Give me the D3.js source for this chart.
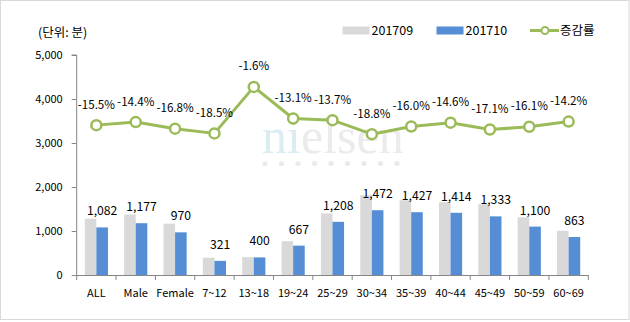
<!DOCTYPE html>
<html>
<head>
<meta charset="utf-8">
<script src="https://cdn.jsdelivr.net/npm/d3@7"></script>
<style>
  html, body { margin: 0; padding: 0; background: #fff; }
  svg { display: block; }
  text { font-family: "Noto Sans CJK KR", "Noto Sans", sans-serif; fill: #000; }
</style>
</head>
<body>
<svg id="chart" width="630" height="322"></svg>
<script>
// Categories (age / gender groups)
const categories = ["ALL", "Male", "Female", "7~12", "13~18", "19~24", "25~29", "30~34", "35~39", "40~44", "45~49", "50~59", "60~69"];
// Usage minutes, September 2017
const sep2017 = [1280, 1375, 1166, 394, 407, 768, 1400, 1813, 1699, 1656, 1608, 1311, 1006];
// Usage minutes, October 2017
const oct2017 = [1082, 1177, 970, 321, 400, 667, 1208, 1472, 1427, 1414, 1333, 1100, 863];
// Month-over-month change (%)
const changeRate = [-15.5, -14.4, -16.8, -18.5, -1.6, -13.1, -13.7, -18.8, -16.0, -14.6, -17.1, -16.1, -14.2];
// Series names and axis ticks
const seriesNames = ["201709", "201710", "증감률"];
const yTicks = [0, 1000, 2000, 3000, 4000, 5000];
const unitLabel = "(단위: 분)";

const colors = { sep: "#d9d9d9", oct: "#558ed5", line: "#9bbb59", axis: "#868686" };

// Number formats using a plain hyphen for negatives
const locale = d3.formatLocale({ decimal: ".", thousands: ",", grouping: [3], currency: ["", ""], minus: "-" });
const fmtInt = locale.format(",");
const fmtPct = locale.format(".1f");

const svg = d3.select("#chart");

// Outer frame
svg.append("rect")
  .attr("x", 0.5).attr("y", 0.5).attr("width", 628.5).attr("height", 319)
  .attr("fill", "#fff").attr("stroke", "#d9d9d9").attr("stroke-width", 1);

const plotLeft = 76.7, plotRight = 588.3, plotTop = 55, plotBottom = 275;

const x = d3.scaleBand().domain(categories).range([plotLeft, plotRight]).paddingInner(0).paddingOuter(0);
const xSub = d3.scaleBand().domain(["sep", "oct"]).range([0, x.bandwidth()]).paddingInner(0).paddingOuter(0.7);
const y = d3.scaleLinear().domain([0, 5000]).range([plotBottom, plotTop]);
const y2 = d3.scaleLinear().domain([-70, 10]).range([plotBottom, plotTop]);

// Watermark
const wm = svg.append("g").attr("class", "watermark");
const wmText = wm.append("text")
  .attr("x", 262).attr("y", 153)
  .style("font-family", "'Liberation Serif', serif")
  .style("font-size", "50px");
wmText.append("tspan").text("ni").style("fill", "#dcecf3");
wmText.append("tspan").text("elsen").style("fill", "#ebebeb");
const dotXs = d3.range(9);
wm.selectAll("circle").data(dotXs).join("circle")
  .attr("cx", d => 265 + d * 16.5).attr("cy", 163.5).attr("r", 2.6)
  .attr("fill", "#ebebeb");

// Unit label
svg.append("text").attr("x", 38).attr("y", 37).style("font-size", "12.5px").text(unitLabel);

// Y axis
const yAxis = svg.append("g").attr("transform", `translate(${plotLeft},0)`)
  .call(d3.axisLeft(y).tickValues(yTicks).tickSize(5).tickPadding(9).tickFormat(fmtInt));
yAxis.attr("font-family", null).attr("font-size", null);
yAxis.select(".domain").attr("stroke", colors.axis).attr("d", `M-5,${plotTop}H0V${plotBottom}`);
yAxis.selectAll(".tick line").attr("stroke", colors.axis);
yAxis.selectAll(".tick text").style("font-size", "11px").attr("fill", "#000");

// X axis with ticks at category boundaries
const xAxisG = svg.append("g").attr("transform", `translate(0,${plotBottom})`);
xAxisG.append("line").attr("x1", plotLeft).attr("x2", plotRight).attr("y1", 0.5).attr("y2", 0.5).attr("stroke", colors.axis);
const boundaries = categories.map(c => x(c)).concat([x(categories[categories.length - 1]) + x.bandwidth()]);
xAxisG.selectAll("line.tk").data(boundaries).join("line").attr("class", "tk")
  .attr("x1", d => d).attr("x2", d => d).attr("y1", 0).attr("y2", 5).attr("stroke", colors.axis);
xAxisG.selectAll("text").data(categories).join("text")
  .attr("x", d => x(d) + x.bandwidth() / 2).attr("y", 22)
  .attr("text-anchor", "middle").style("font-size", "11px").text(d => d);

// Bars
const rows = categories.map((c, i) => ({ c, sep: sep2017[i], oct: oct2017[i], rate: changeRate[i] }));
const barsG = svg.append("g");
barsG.selectAll("rect.sep").data(rows).join("rect").attr("class", "sep")
  .attr("x", d => x(d.c) + xSub("sep")).attr("width", xSub.bandwidth())
  .attr("y", d => y(d.sep)).attr("height", d => y(0) - y(d.sep)).attr("fill", colors.sep);
barsG.selectAll("rect.oct").data(rows).join("rect").attr("class", "oct")
  .attr("x", d => x(d.c) + xSub("oct")).attr("width", xSub.bandwidth())
  .attr("y", d => y(d.oct)).attr("height", d => y(0) - y(d.oct)).attr("fill", colors.oct);
barsG.selectAll("text").data(rows).join("text")
  .attr("x", d => x(d.c) + xSub("oct") + xSub.bandwidth() / 2)
  .attr("y", d => y(d.oct) - 12)
  .attr("text-anchor", "middle").style("font-size", "12.2px")
  .text(d => fmtInt(d.oct));

// Change-rate line
const cx = d => x(d.c) + x.bandwidth() / 2;
const line = d3.line().x(cx).y(d => y2(d.rate));
svg.append("path").datum(rows).attr("d", line)
  .attr("fill", "none").attr("stroke", colors.line).attr("stroke-width", 3).attr("stroke-linejoin", "round");
svg.selectAll("circle.pt").data(rows).join("circle").attr("class", "pt")
  .attr("cx", cx).attr("cy", d => y2(d.rate)).attr("r", 5)
  .attr("fill", "#fff").attr("stroke", colors.line).attr("stroke-width", 2.5);
svg.selectAll("text.rate").data(rows).join("text").attr("class", "rate")
  .attr("x", cx).attr("y", d => y2(d.rate) - 16.5)
  .attr("text-anchor", "middle").style("font-size", "11.6px")
  .text(d => fmtPct(d.rate) + "%");

// Legend
const lg = svg.append("g");
lg.append("rect").attr("x", 342.5).attr("y", 26.5).attr("width", 27).attr("height", 8).attr("fill", colors.sep);
lg.append("text").attr("x", 371.5).attr("y", 35).style("font-size", "12.5px").text(seriesNames[0]);
lg.append("rect").attr("x", 436.5).attr("y", 26.5).attr("width", 27).attr("height", 8).attr("fill", colors.oct);
lg.append("text").attr("x", 465.5).attr("y", 35).style("font-size", "12.5px").text(seriesNames[1]);
lg.append("line").attr("x1", 530).attr("x2", 559).attr("y1", 30.5).attr("y2", 30.5).attr("stroke", colors.line).attr("stroke-width", 3);
lg.append("circle").attr("cx", 545).attr("cy", 30.5).attr("r", 3.5).attr("fill", "#fff").attr("stroke", colors.line).attr("stroke-width", 2);
lg.append("text").attr("x", 560).attr("y", 35).style("font-size", "12.5px").text(seriesNames[2]);
</script>
</body>
</html>
